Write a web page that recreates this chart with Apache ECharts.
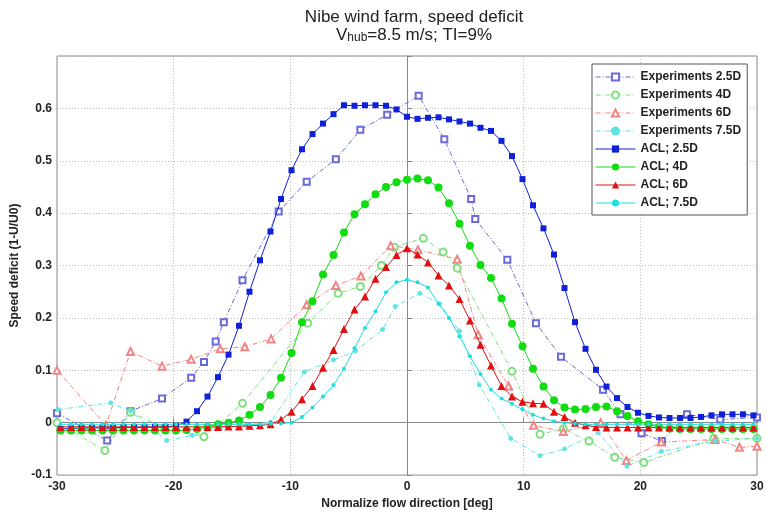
<!DOCTYPE html>
<html>
<head>
<meta charset="utf-8">
<script src="https://cdn.jsdelivr.net/npm/echarts@6/dist/echarts.min.js"></script>
<style>
  html, body { margin: 0; padding: 0; background: #fff; }
  #main { width: 767px; height: 515px; }
</style>
</head>
<body>
<div id="main"></div>
<script>
// simulation directions (deg)
var aclX = [-29.7, -28.8, -27.9, -27.0, -26.1, -25.2, -24.3, -23.4, -22.5, -21.6, -20.7, -19.8, -18.9, -18.0, -17.1, -16.2, -15.3,
  -14.4, -13.5, -12.6, -11.7, -10.8, -9.9, -9.0, -8.1, -7.2, -6.3, -5.4, -4.5, -3.6, -2.7, -1.8, -0.9, 0, 0.9, 1.8, 2.7, 3.6,
  4.5, 5.4, 6.3, 7.2, 8.1, 9.0, 9.9, 10.8, 11.7, 12.6, 13.5, 14.4, 15.3, 16.2, 17.1, 18.0, 18.9, 19.8, 20.7, 21.6, 22.5,
  23.4, 24.3, 25.2, 26.1, 27.0, 27.9, 28.8, 29.7];

var acl25 = [-0.012, -0.011, -0.01, -0.01, -0.01, -0.01, -0.009, -0.009, -0.009, -0.008, -0.008, -0.006, 0.002, 0.022, 0.05,
  0.087, 0.13, 0.185, 0.25, 0.31, 0.365, 0.427, 0.482, 0.522, 0.551, 0.571, 0.589, 0.606, 0.605, 0.606, 0.606, 0.605, 0.598,
  0.584, 0.58, 0.582, 0.583, 0.579, 0.575, 0.571, 0.563, 0.557, 0.538, 0.509, 0.465, 0.415, 0.371, 0.321, 0.257, 0.192,
  0.141, 0.101, 0.069, 0.047, 0.03, 0.019, 0.013, 0.01, 0.009, 0.009, 0.009, 0.011, 0.014, 0.016, 0.016, 0.016, 0.014];
var acl4 = [-0.015, -0.015, -0.015, -0.015, -0.015, -0.015, -0.015, -0.015, -0.015, -0.015, -0.015, -0.015, -0.014, -0.012,
  -0.008, -0.003, 0.0, 0.004, 0.015, 0.03, 0.053, 0.086, 0.133, 0.192, 0.232, 0.283, 0.32, 0.363, 0.398, 0.417, 0.436, 0.45,
  0.459, 0.464, 0.466, 0.463, 0.449, 0.419, 0.38, 0.338, 0.301, 0.276, 0.237, 0.189, 0.146, 0.103, 0.069, 0.043, 0.029,
  0.025, 0.026, 0.03, 0.031, 0.022, 0.013, 0.003, -0.003, -0.008, -0.011, -0.012, -0.012, -0.012, -0.012, -0.012, -0.012,
  -0.012, -0.012];
var acl6 = [-0.008, -0.008, -0.008, -0.008, -0.008, -0.008, -0.008, -0.008, -0.008, -0.008, -0.008, -0.008, -0.008, -0.008,
  -0.008, -0.008, -0.007, -0.007, -0.006, -0.005, -0.003, 0.006, 0.021, 0.045, 0.07, 0.105, 0.139, 0.179, 0.216, 0.241,
  0.275, 0.297, 0.32, 0.333, 0.321, 0.306, 0.281, 0.262, 0.236, 0.195, 0.149, 0.109, 0.07, 0.05, 0.04, 0.037, 0.036, 0.021,
  0.011, 0.0, -0.005, -0.008, -0.009, -0.009, -0.009, -0.009, -0.009, -0.009, -0.009, -0.009, -0.009, -0.009, -0.009,
  -0.009, -0.009, -0.009, -0.009];
var acl75 = [-0.003, -0.003, -0.003, -0.003, -0.003, -0.003, -0.003, -0.003, -0.003, -0.003, -0.003, -0.003, -0.003, -0.003,
  -0.003, -0.003, -0.003, -0.003, -0.003, -0.003, -0.002, -0.001, 0.0, 0.011, 0.029, 0.05, 0.072, 0.103, 0.142, 0.181,
  0.213, 0.249, 0.268, 0.273, 0.268, 0.258, 0.227, 0.2, 0.165, 0.127, 0.093, 0.063, 0.046, 0.036, 0.025, 0.015, 0.008,
  0.003, 0.0, -0.002, -0.003, -0.003, -0.003, -0.003, -0.003, -0.003, -0.003, -0.003, -0.003, -0.003, -0.003, -0.003,
  -0.003, -0.003, -0.003, -0.003, -0.003];

// measurements: [direction, deficit]
var exp25 = [[-30, 0.018], [-25.7, -0.034], [-23.7, 0.022], [-21.0, 0.046], [-18.5, 0.086], [-17.4, 0.116], [-16.4, 0.155],
  [-15.7, 0.192], [-14.1, 0.272], [-11.0, 0.403], [-8.6, 0.46], [-6.1, 0.503], [-4.0, 0.559], [-1.7, 0.588], [1.0, 0.624],
  [3.2, 0.541], [5.5, 0.427], [5.85, 0.389], [8.6, 0.311], [11.05, 0.19], [13.2, 0.126], [16.8, 0.063], [18.3, 0.016],
  [20.1, -0.02], [21.85, -0.035], [24.0, 0.016], [26.85, 0.006], [30, 0.01]];
var exp4 = [[-30, 0.0], [-25.9, -0.053], [-23.7, 0.02], [-20.8, -0.01], [-17.4, -0.027], [-14.1, 0.037], [-8.5, 0.19],
  [-5.9, 0.247], [-4.0, 0.26], [-2.2, 0.3], [-1.1, 0.335], [1.4, 0.352], [3.1, 0.326], [4.3, 0.295], [9.0, 0.098],
  [11.4, -0.022], [13.4, -0.012], [15.6, -0.035], [17.8, -0.066], [20.3, -0.076], [26.3, -0.03], [30, -0.03]];
var exp6 = [[-30, 0.1], [-25.8, -0.005], [-23.7, 0.136], [-21.0, 0.108], [-18.5, 0.121], [-16.0, 0.141], [-13.9, 0.145],
  [-11.65, 0.16], [-8.6, 0.225], [-6.1, 0.262], [-3.95, 0.28], [-1.4, 0.338], [0.94, 0.33], [4.3, 0.312], [6.1, 0.168],
  [8.7, 0.07], [10.85, -0.005], [13.4, -0.017], [16.6, 0.0], [18.8, -0.072], [21.8, -0.037], [26.4, -0.032], [28.5, -0.047],
  [30, -0.045]];
var exp75 = [[-29.9, 0.025], [-25.4, 0.038], [-23.7, 0.022], [-20.6, -0.034], [-18.4, -0.024], [-16.0, -0.01], [-13.8, -0.005],
  [-11.7, 0.001], [-8.8, 0.097], [-6.3, 0.12], [-4.4, 0.137], [-2.1, 0.178], [-1.0, 0.222], [1.1, 0.247], [2.8, 0.227],
  [4.5, 0.175], [6.2, 0.072], [8.9, -0.03], [11.4, -0.063], [13.5, -0.05], [16.4, -0.019], [18.85, -0.083], [21.8, -0.055],
  [26.4, -0.035], [30, -0.03]];

var xTicks = [-30, -20, -10, 0, 10, 20, 30];

function pairs(xs, ys) {
  return ys.map(function(v, i) { return [xs[i], v]; });
}

var chart = echarts.init(document.getElementById('main'));
var dashDot = [5, 2, 1, 2];
var font = "'Liberation Sans', Arial, sans-serif";

function expSeries(name, data, color, symbol, size) {
  return {
    name: name, type: 'line', data: data, symbol: symbol, symbolSize: size,
    lineStyle: { color: color, width: 1, type: dashDot },
    itemStyle: { color: color, borderColor: color, borderWidth: 1 },
    z: 2
  };
}
function aclSeries(name, data, color, symbol, size) {
  return {
    name: name, type: 'line', data: data, symbol: symbol, symbolSize: size,
    lineStyle: { color: color, width: 1 },
    itemStyle: { color: color },
    z: 3
  };
}

var option = {
  animation: false,
  backgroundColor: '#fff',
  title: {
    left: 409, top: 3, textAlign: 'center',
    text: 'Nibe wind farm, speed deficit\n{v|V}{sub|hub}{v|=8.5 m/s; TI=9%}',
    textStyle: {
      fontFamily: font, fontSize: 17, fontWeight: 'normal',
      color: '#222', lineHeight: 18,
      rich: {
        v: { fontFamily: font, fontSize: 17, color: '#222', lineHeight: 18 },
        sub: { fontFamily: font, fontSize: 12, color: '#222', verticalAlign: 'bottom', padding: [12, 0, 0, 0] }
      }
    }
  },
  legend: {
    orient: 'vertical', left: 592, top: 64,
    backgroundColor: '#fff', borderColor: '#555', borderWidth: 1,
    padding: [7, 6, 6, 3], itemWidth: 40, itemHeight: 9, itemGap: 6,
    lineStyle: { width: 1 },
    textStyle: { fontFamily: font, fontSize: 12, fontWeight: 'bold', color: '#222', lineHeight: 12 },
    data: ['Experiments 2.5D', 'Experiments 4D', 'Experiments 6D', 'Experiments 7.5D',
      'ACL; 2.5D', 'ACL; 4D', 'ACL; 6D', 'ACL; 7.5D']
  },
  grid: { left: 57, right: 10, top: 56, bottom: 39, show: true, borderColor: '#888', borderWidth: 1 },
  xAxis: {
    type: 'value', min: -30, max: 30, interval: 10,
    name: 'Normalize flow direction [deg]', nameLocation: 'middle', nameGap: 20,
    nameTextStyle: { fontFamily: font, fontSize: 12, fontWeight: 'bold', color: '#222' },
    axisLine: { lineStyle: { color: '#888' } },
    axisTick: { inside: true, length: 5, lineStyle: { color: '#888' } },
    axisLabel: { fontFamily: font, fontSize: 12, fontWeight: 'bold', color: '#222', margin: 6,
      customValues: xTicks },
    splitLine: { lineStyle: { color: '#bbb', type: [1, 2] } }
  },
  yAxis: {
    type: 'value', min: -0.1, max: 0.7, interval: 0.1,
    name: 'Speed deficit (1-U/U0)', nameLocation: 'middle', nameGap: 30,
    nameTextStyle: { fontFamily: font, fontSize: 12, fontWeight: 'bold', color: '#222' },
    axisLine: { lineStyle: { color: '#888' } },
    axisTick: { inside: true, length: 5, lineStyle: { color: '#888' } },
    axisLabel: {
      fontFamily: font, fontSize: 12, fontWeight: 'bold', color: '#222', margin: 5,
      formatter: function(v) { return v > 0.65 ? '' : String(Math.round(v * 10) / 10); }
    },
    splitLine: { lineStyle: { color: '#bbb', type: [1, 2] } }
  },
  series: [
    expSeries('Experiments 2.5D', exp25, '#6a6ad8', 'emptyRect', 6),
    expSeries('Experiments 4D', exp4, '#7ce07c', 'emptyCircle', 7),
    expSeries('Experiments 6D', exp6, '#f08585', 'emptyTriangle', 7),
    expSeries('Experiments 7.5D', exp75, '#5fe3e3', 'circle', 4),
    aclSeries('ACL; 2.5D', pairs(aclX, acl25), '#1020d8', 'rect', 6),
    aclSeries('ACL; 4D', pairs(aclX, acl4), '#10dd10', 'circle', 8),
    aclSeries('ACL; 6D', pairs(aclX, acl6), '#e01010', 'triangle', 8),
    aclSeries('ACL; 7.5D', pairs(aclX, acl75), '#20dede', 'circle', 4)
  ]
};
chart.setOption(option);
</script>
</body>
</html>
